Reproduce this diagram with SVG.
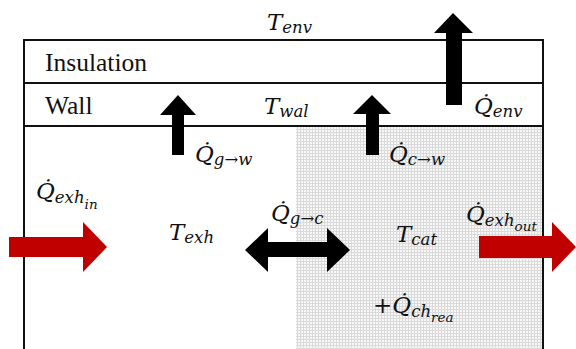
<svg xmlns="http://www.w3.org/2000/svg" width="576" height="349" viewBox="0 0 576 349">
<style>
.lbl{font-family:"Liberation Serif","Times New Roman",serif;font-size:25.5px;fill:#111}
.m{font-family:"DejaVu Serif",serif;font-style:italic;font-size:23px;fill:#111}
.s{font-size:16.5px}
.ss{font-size:13.5px}
.frame{stroke:#111;stroke-width:2;fill:none}
.blk{fill:#000}
.red{fill:#c00000}
</style>
<defs>
<pattern id="grid" width="3" height="3" patternUnits="userSpaceOnUse">
<rect width="3" height="3" fill="#f7f7f7"/>
<path d="M0 0.5H3M0.5 0V3" stroke="#dadada" stroke-width="1"/>
</pattern>
</defs>
<rect width="576" height="349" fill="#fff"/>
<g id="catalyst"><rect x="296" y="126" width="247" height="223" fill="url(#grid)"/></g>
<g id="frame">
<path class="frame" d="M24 349V40H543V349"/>
<line class="frame" x1="24" y1="83" x2="543" y2="83"/>
<line class="frame" x1="24" y1="126" x2="543" y2="126"/>
</g>
<g id="insulation"><text class="lbl" x="45" y="71">Insulation</text></g>
<g id="wall"><text class="lbl" x="45" y="114">Wall</text></g>
<g id="connectors">
<polygon class="blk" points="172,155 172,115 160,115 178,95 196,115 184,115 184,155"/>
<polygon class="blk" points="366,155 366,114 353,114 372,95 391,114 379,114 379,155"/>
<polygon class="blk" points="446,105 446,33 434,33 453,13 473,33 462,33 462,105"/>
<polygon class="red" points="9,237 83,237 83,222 107,247 83,272 83,257 9,257"/>
<polygon class="red" points="479,236 552,236 552,222 576,247 552,272 552,258 479,258"/>
<polygon class="blk" points="245,250 268,228 268,242 327,242 327,228 350,250 327,272 327,257 268,257 268,272"/>
</g>
<g id="labels">
<text class="m" x="267" y="30">T<tspan class="s" dy="3">env</tspan></text>
<text class="m" x="264" y="114">T<tspan class="s" dy="3">wal</tspan></text>
<text class="m" x="195" y="162">Q̇<tspan class="s" dy="3">g→w</tspan></text>
<text class="m" x="389" y="162">Q̇<tspan class="s" dy="3">c→w</tspan></text>
<text class="m" x="474" y="114">Q̇<tspan class="s" dy="3">env</tspan></text>
<text class="m" x="36" y="199">Q̇<tspan class="s" dy="4">exh</tspan><tspan class="ss" dy="6">in</tspan></text>
<text class="m" x="169" y="240">T<tspan class="s" dy="3">exh</tspan></text>
<text class="m" x="271" y="221">Q̇<tspan class="s" dy="3">g→c</tspan></text>
<text class="m" x="396" y="242">T<tspan class="s" dy="3">cat</tspan></text>
<text class="m" x="466" y="222">Q̇<tspan class="s" dy="4">exh</tspan><tspan class="ss" dy="5">out</tspan></text>
<text class="m" x="373" y="313"><tspan font-style="normal">+</tspan>Q̇<tspan class="s" dy="4">ch</tspan><tspan class="ss" dy="5">rea</tspan></text>
</g>
</svg>
